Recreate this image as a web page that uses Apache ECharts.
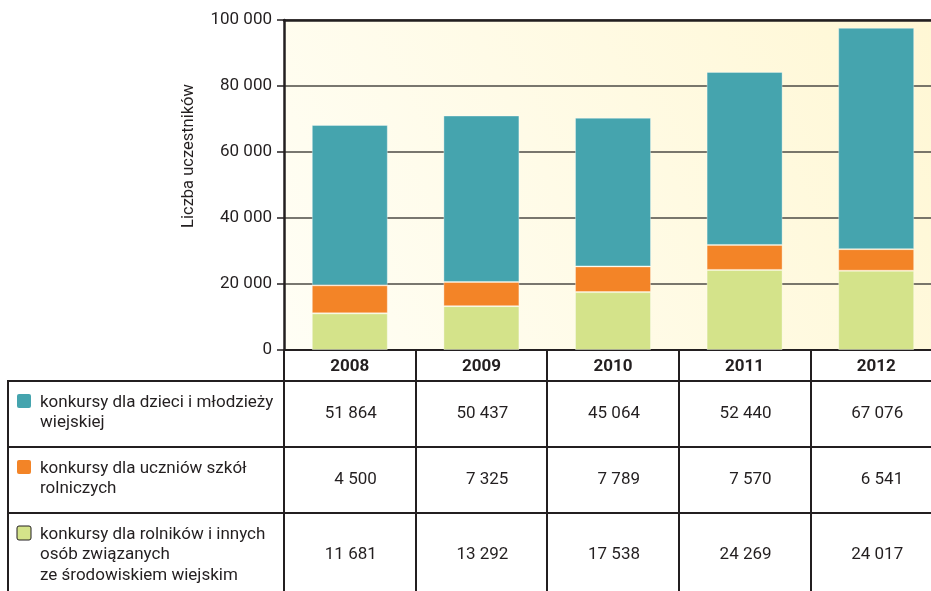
<!DOCTYPE html>
<html>
<head>
<meta charset="utf-8">
<script src="https://cdn.jsdelivr.net/npm/echarts@6/dist/echarts.min.js"></script>
<style>
  html, body { margin: 0; padding: 0; background: #fff; overflow: hidden; }
  #main { width: 942px; height: 591px; }
</style>
</head>
<body>
<div id="main"></div>
<script>
// dane z tabeli
var years = ['2008', '2009', '2010', '2011', '2012'];
var dzieci = [51864, 50437, 45064, 52440, 67076];
var uczniowie = [4500, 7325, 7789, 7570, 6541];
var rolnicy = [11681, 13292, 17538, 24269, 24017];
// wysokosci slupkow (rok 2008 odbiega od tabeli)
var barDzieci = [48600, 50437, 45064, 52440, 67076];
var barUczniowie = [8500, 7325, 7789, 7570, 6541];
var barRolnicy = [11100, 13292, 17538, 24269, 24017];
var seriesNames = [
    'konkursy dla dzieci i młodzieży\nwiejskiej',
    'konkursy dla uczniów szkół\nrolniczych',
    'konkursy dla rolników i innych\nosób związanych\nze środowiskiem wiejskim'
];
var yTickValues = [0, 20000, 40000, 60000, 80000, 100000];
var yTitle = 'Liczba uczestników';

var INK = '#231f20';
var FONT = 'Roboto';
var colors = ['#45a4ae', '#f38427', '#d4e38a'];

function fmt(v) {
    return String(v).replace(/\B(?=(\d{3})+(?!\d))/g, ' ');
}

var myChart = echarts.init(document.getElementById('main'));

var barStyle = function (c) {
    return { color: c, borderColor: 'rgba(255,255,255,0.35)', borderWidth: 1 };
};

var option = {
    animation: false,
    textStyle: { fontFamily: FONT },
    grid: {
        left: 284, top: 20, right: 0, height: 330,
        show: true, borderWidth: 0,
        backgroundColor: new echarts.graphic.LinearGradient(0, 1, 1, 0, [
            { offset: 0, color: '#fffef5' },
            { offset: 1, color: '#fff7d4' }
        ])
    },
    xAxis: [
        {
            type: 'category',
            data: years,
            axisLine: { lineStyle: { color: INK, width: 2 } },
            axisTick: { show: true, length: 245, lineStyle: { color: INK, width: 2 } },
            axisLabel: { color: INK, fontSize: 17, fontWeight: 'bold', margin: 8, fontFamily: FONT }
        },
        {   // gorna krawedz
            type: 'category',
            position: 'top',
            data: years,
            axisLine: { lineStyle: { color: INK, width: 2.5 } },
            axisTick: { show: false },
            axisLabel: { show: false }
        }
    ],
    yAxis: {
        type: 'value',
        min: yTickValues[0],
        max: yTickValues[yTickValues.length - 1],
        interval: yTickValues[1] - yTickValues[0],
        axisLine: { show: true, lineStyle: { color: INK, width: 2.5 } },
        axisTick: { show: true, length: 7, lineStyle: { color: INK, width: 1.5 } },
        splitLine: { lineStyle: { color: '#4d4a45', width: 1.5 } },
        axisLabel: { color: INK, fontSize: 17, margin: 12, formatter: fmt, fontFamily: FONT }
    },
    series: [
        { name: seriesNames[2], type: 'bar', stack: 'a', data: barRolnicy, barWidth: 76, itemStyle: barStyle(colors[2]) },
        { name: seriesNames[1], type: 'bar', stack: 'a', data: barUczniowie, barWidth: 76, itemStyle: barStyle(colors[1]) },
        { name: seriesNames[0], type: 'bar', stack: 'a', data: barDzieci, barWidth: 76, itemStyle: barStyle(colors[0]) }
    ]
};
myChart.setOption(option, true);

// tabela pod wykresem
var rows = [dzieci, uczniowie, rolnicy];
var rowTop = [381, 447, 513];
var rowMid = [414, 480, 555];
var graphics = [];

graphics.push({ type: 'text', x: 189, y: 156, rotation: Math.PI / 2,
    style: { text: yTitle, fill: INK, font: '16.5px ' + FONT, textAlign: 'center', textVerticalAlign: 'middle' } });

rowTop.forEach(function (y) {
    graphics.push({ type: 'line', shape: { x1: 7, y1: y, x2: 942, y2: y },
        style: { stroke: INK, lineWidth: 2 } });
});
graphics.push({ type: 'line', shape: { x1: 8, y1: 380, x2: 8, y2: 591 },
    style: { stroke: INK, lineWidth: 2 } });

rows.forEach(function (vals, r) {
    // legenda
    graphics.push({ type: 'rect', shape: { x: 17, y: rowTop[r] + 13, width: 14, height: 14, r: 2 },
        style: { fill: colors[r], stroke: r === 2 ? INK : null, lineWidth: r === 2 ? 1 : 0 } });
    graphics.push({ type: 'text', x: 40, y: rowTop[r] + 11,
        style: { text: seriesNames[r], fill: INK, font: '17px ' + FONT, lineHeight: 20.5,
                 textVerticalAlign: 'top' } });
    vals.forEach(function (v, i) {
        var px = myChart.convertToPixel({ xAxisIndex: 0 }, years[i]);
        graphics.push({ type: 'text', x: px + 27, y: rowMid[r],
            style: { text: fmt(v), fill: INK, font: '17px ' + FONT,
                     textAlign: 'right', textVerticalAlign: 'middle' } });
    });
});

myChart.setOption({ graphic: graphics });
</script>
</body>
</html>
